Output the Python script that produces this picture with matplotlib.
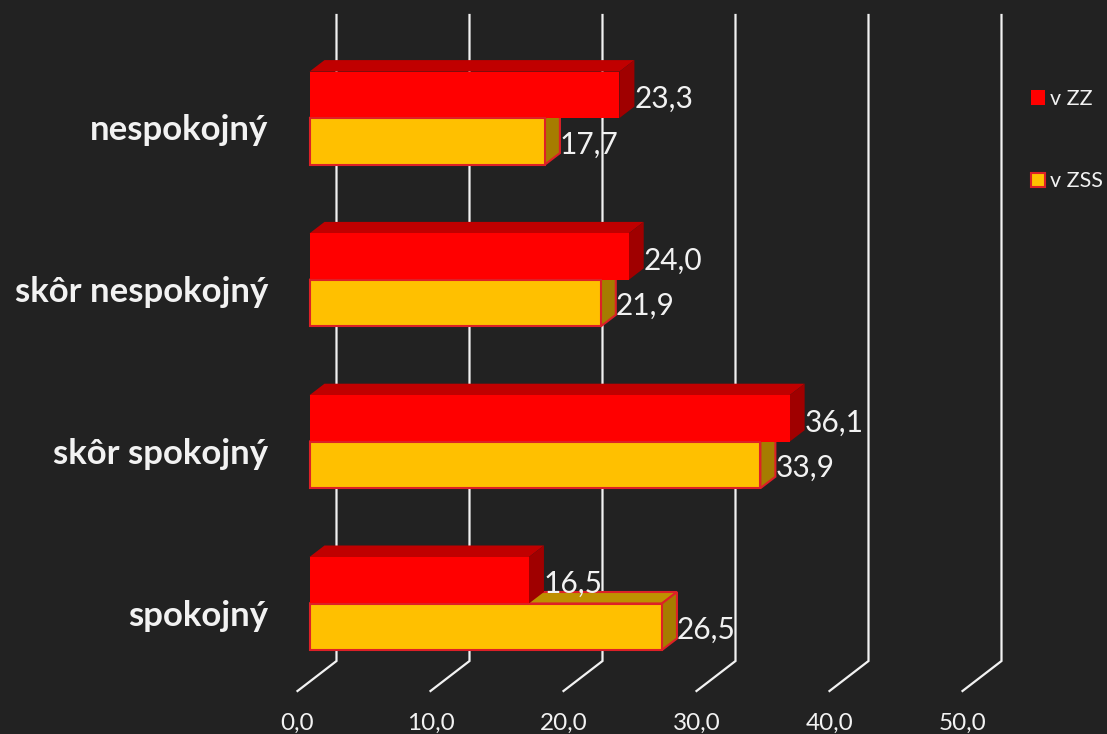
import matplotlib
matplotlib.use("Agg")
import matplotlib.pyplot as plt
from matplotlib.patches import Polygon, Patch

categories = ["spokojný", "skôr spokojný", "skôr nespokojný", "nespokojný"]
v_zz = [16.5, 36.1, 24.0, 23.3]
v_zss = [26.5, 33.9, 21.9, 17.7]
series_names = ["v ZZ", "v ZSS"]
tick_values = [0, 10, 20, 30, 40, 50]

W, H = 1107, 734
BG = "#222222"
TXT = "#f2f2f2"
PX_X = 13.3           # pixels per value unit
PX_Y = 161.8          # pixels per category
X0, Y0 = 309.5, 603.5  # pixel of value 0 / of the first category's bar seam
plt.rcParams["font.family"] = ["Lato", "DejaVu Sans"]

fig = plt.figure(figsize=(W / 100, H / 100), dpi=100, facecolor=BG)
ax = fig.add_axes([0, 0, 1, 1], facecolor=BG)
ax.set_xlim(-X0 / PX_X, (W - X0) / PX_X)
ax.set_ylim(-(H - Y0) / PX_Y, Y0 / PX_Y)
ax.axis("off")

dx, dy = 15 / PX_X, 11.5 / PX_Y      # bar depth
bar_h = 46.5 / PX_Y
grid_dx = 27 / PX_X                  # wall offset from value position
floor_dx, floor_dy = 39 / PX_X, 30 / PX_Y
wall_bottom = -(661 - Y0) / PX_Y
wall_top = (Y0 - 15) / PX_Y

for t in tick_values:
    xb = t + grid_dx
    ax.plot([xb, xb, xb - floor_dx], [wall_top, wall_bottom, wall_bottom - floor_dy],
            color=TXT, lw=1.6, zorder=1, solid_joinstyle="miter")
    ax.text(t - 12 / PX_X, -(723 - Y0) / PX_Y, f"{t},0",
            color=TXT, fontsize=17.5, ha="center", va="center", zorder=6)


def draw_bar(y, val, h, front, top, side, edge, z_back, z_front):
    lw = 1.5 if edge != "none" else 0
    ax.add_patch(Polygon([(0, y + h), (dx, y + h + dy), (val + dx, y + h + dy), (val, y + h)],
                         closed=True, facecolor=top, edgecolor=edge, linewidth=lw, zorder=z_back))
    ax.add_patch(Polygon([(val, y), (val + dx, y + dy), (val + dx, y + h + dy), (val, y + h)],
                         closed=True, facecolor=side, edgecolor=edge, linewidth=lw, zorder=z_back + 0.1))
    ax.barh(y, val, height=h, align="edge", color=front, edgecolor=edge, linewidth=lw, zorder=z_front)


for i, name in enumerate(categories):
    # the lower bar's back faces sit behind the upper bar, its front in front of it
    draw_bar(i - bar_h, v_zss[i], bar_h, "#ffc000", "#bf9000", "#a67c00", "#dd2027", 2, 4)
    draw_bar(i, v_zz[i], bar_h, "#ff0000", "#c00000", "#a00000", "none", 3, 3.5)
    ax.text(v_zz[i] + dx, i + bar_h / 2 - 4 / PX_Y, f"{v_zz[i]:.1f}".replace(".", ","),
            color=TXT, fontsize=21.5, ha="left", va="center", zorder=6)
    ax.text(v_zss[i] + dx, i - bar_h / 2 - 3 / PX_Y, f"{v_zss[i]:.1f}".replace(".", ","),
            color=TXT, fontsize=21.5, ha="left", va="center", zorder=6)
    ax.text((268 - X0) / PX_X, i - 12 / PX_Y, name, color=TXT, fontsize=25,
            fontweight="bold", ha="right", va="center", zorder=6)

handles = [Patch(facecolor="#ff0000", edgecolor="none"),
           Patch(facecolor="#ffc000", edgecolor="#dd2027", linewidth=1.5)]
ax.legend(handles, series_names, loc="upper left", bbox_to_anchor=(1031 / W, 1 - 89 / H),
          frameon=False, fontsize=15.5, labelcolor=TXT, handlelength=0.65, handleheight=0.65,
          handletextpad=0.25, labelspacing=2.9, borderaxespad=0, borderpad=0)

fig.savefig("out.png", dpi=100, facecolor=BG)
